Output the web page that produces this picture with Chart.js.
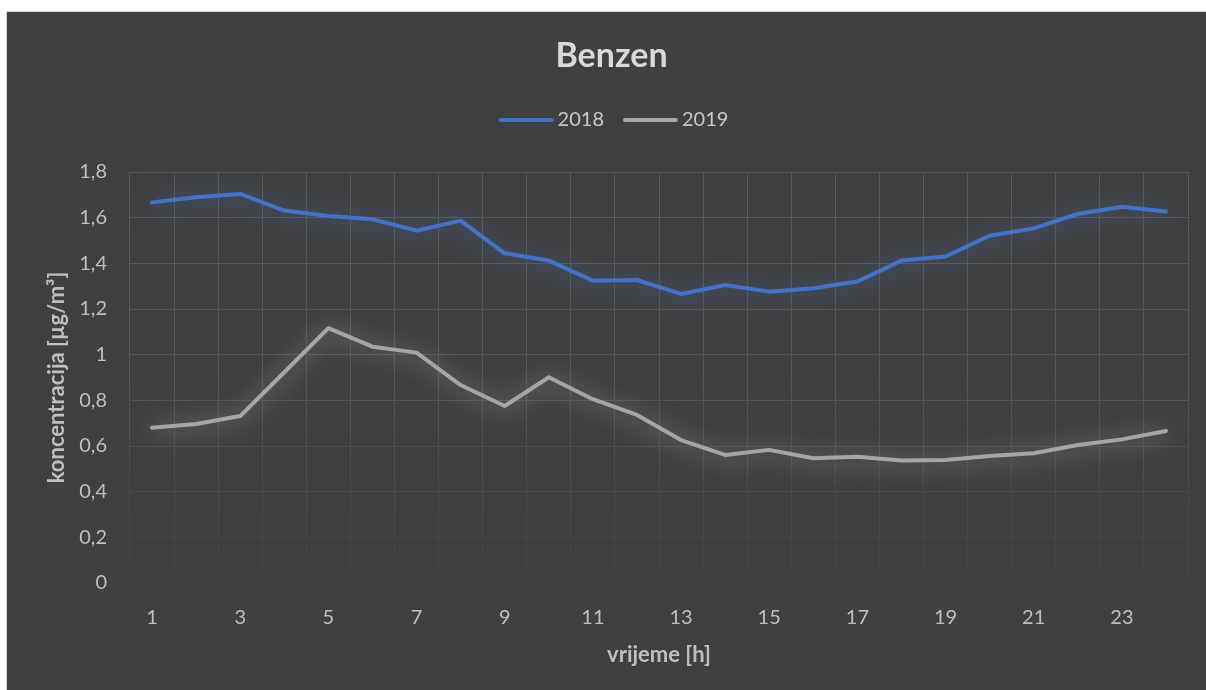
<!DOCTYPE html>
<html>
<head>
<meta charset="utf-8">
<script src="https://cdn.jsdelivr.net/npm/chart.js@4.4.1/dist/chart.umd.min.js"></script>
<style>
  html, body { margin: 0; padding: 0; background: #ffffff; }
  #wrap { position: absolute; left: 6px; top: 11px; width: 1199px; height: 678px; border: 1px solid #d9d9d9; border-right: none; border-bottom: none; background: #404040; }
  canvas { display: block; }
</style>
</head>
<body>
<div id="wrap"><canvas id="c"></canvas></div>
<script>
const hours = ['1','2','3','4','5','6','7','8','9','10','11','12','13','14','15','16','17','18','19','20','21','22','23','24'];
const values2018 = [1.667,1.689,1.704,1.631,1.607,1.593,1.543,1.587,1.444,1.412,1.324,1.327,1.266,1.305,1.276,1.291,1.320,1.412,1.430,1.521,1.553,1.616,1.648,1.627];
const values2019 = [0.680,0.696,0.731,0.923,1.116,1.035,1.009,0.867,0.775,0.901,0.805,0.736,0.626,0.561,0.583,0.546,0.553,0.536,0.539,0.556,0.568,0.604,0.629,0.666];
const yTickLabels = ['0','0,2','0,4','0,6','0,8','1','1,2','1,4','1,6','1,8'];

const FONT = 'Lato, "Open Sans", sans-serif';

function legendLine(color) {
  const cv = document.createElement('canvas');
  cv.width = 55; cv.height = 8;
  const c = cv.getContext('2d');
  c.strokeStyle = color; c.lineWidth = 4; c.lineCap = 'round';
  c.beginPath(); c.moveTo(2, 4); c.lineTo(53, 4); c.stroke();
  return cv;
}

function gridGradient(ctx) {
  const chart = ctx.chart;
  const a = chart.chartArea;
  if (!a) return '#595959';
  const g = chart.ctx.createLinearGradient(0, a.top, 0, a.bottom);
  g.addColorStop(0, '#5a5a5a');
  g.addColorStop(0.5, '#575757');
  g.addColorStop(1, '#434343');
  return g;
}

const glowPlugin = {
  id: 'glow',
  beforeDatasetDraw(chart, args) {
    const c = chart.ctx;
    c.save();
    const ds = chart.data.datasets[args.index];
    c.shadowColor = ds.glowColor;
    c.shadowBlur = 24;
    c.shadowOffsetX = 0;
    c.shadowOffsetY = 2;
  },
  afterDatasetDraw(chart) {
    chart.ctx.restore();
  }
};

const layoutTweaks = {
  id: 'layoutTweaks',
  beforeInit(chart) {
    const lg = chart.legend;
    if (!lg) return;
    const orig = lg.fit;
    lg.fit = function () {
      orig.call(this);
      this.height = 87;
      this.bottom = this.top + 87;
    };
  },
  afterLayout(chart) {
    if (chart.legend) { chart.legend.left += 10; chart.legend.right += 10; }
    if (chart.titleBlock) { chart.titleBlock.left += 5; chart.titleBlock.right += 5; }
  }
};

new Chart(document.getElementById('c'), {
  type: 'line',
  data: {
    labels: hours,
    datasets: [
      { label: '2018', data: values2018, borderColor: '#4472c4', backgroundColor: '#4472c4', glowColor: 'rgba(68,114,196,1)', pointStyle: legendLine('#4472c4'), borderWidth: 4, pointRadius: 0, pointHoverRadius: 0, tension: 0, borderCapStyle: 'round', borderJoinStyle: 'round' },
      { label: '2019', data: values2019, borderColor: '#a5a5a5', backgroundColor: '#a5a5a5', glowColor: 'rgba(170,170,170,0.9)', pointStyle: legendLine('#a5a5a5'), borderWidth: 4, pointRadius: 0, pointHoverRadius: 0, tension: 0, borderCapStyle: 'round', borderJoinStyle: 'round' }
    ]
  },
  options: {
    responsive: true,
    maintainAspectRatio: false,
    animation: false,
    layout: { padding: { left: 0, right: 0, top: 0, bottom: 0 } },
    plugins: {
      tooltip: { enabled: false },
      title: {
        display: true,
        text: 'Benzen',
        color: '#d9d9d9',
        font: { family: FONT, size: 34, weight: 'bold' },
        padding: { top: 24, bottom: 8.2 }
      },
      legend: {
        display: true,
        position: 'top',
        labels: {
          color: '#c8c8c8',
          font: { family: FONT, size: 20 },
          usePointStyle: true,
          pointStyleWidth: 43,
          padding: 25
        }
      }
    },
    scales: {
      x: {
        type: 'category',
        offset: true,
        grid: { display: true, offset: true, color: gridGradient, lineWidth: 1, drawTicks: false },
        border: { display: false },
        ticks: {
          autoSkip: false,
          maxRotation: 0,
          color: '#bfbfbf',
          font: { family: FONT, size: 20 },
          padding: 23,
          callback: function (v, i) { return i % 2 === 0 ? hours[i] : ''; }
        },
        title: {
          display: true,
          text: 'vrijeme [h]',
          color: '#bfbfbf',
          font: { family: FONT, size: 22, weight: 'bold' },
          padding: { top: 0, bottom: 22 }
        },
        afterFit(s) { s.height = 107; }
      },
      y: {
        min: 0,
        max: 1.8,
        grid: { color: gridGradient, lineWidth: 1, drawTicks: false },
        border: { display: false },
        ticks: {
          stepSize: 0.2,
          color: '#bfbfbf',
          font: { family: FONT, size: 20 },
          padding: 23,
          callback: function (v, i) { return yTickLabels[i]; }
        },
        title: {
          display: true,
          text: 'koncentracija [µg/m³]',
          color: '#bfbfbf',
          font: { family: FONT, size: 22, weight: 'bold' },
          padding: { top: 37, bottom: 0 }
        },
        afterFit(s) { s.width = 123; }
      },
      yRight: {
        position: 'right',
        display: true,
        grid: { display: false, drawTicks: false },
        border: { display: false },
        ticks: { display: false },
        afterFit(s) { s.width = 18; }
      }
    }
  },
  plugins: [glowPlugin, layoutTweaks]
});
</script>
</body>
</html>
